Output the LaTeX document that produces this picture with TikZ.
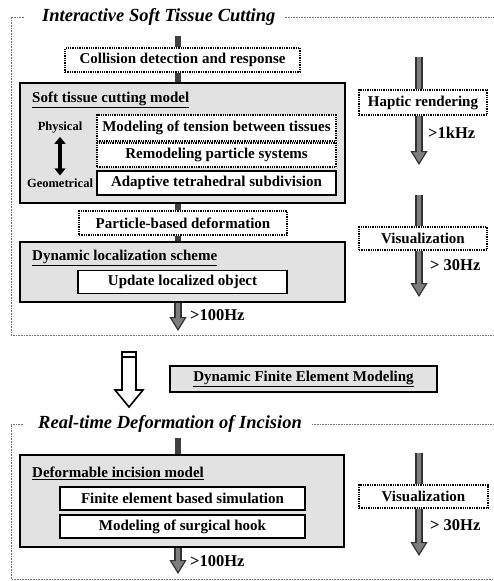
\documentclass[tikz,border=0pt]{standalone}
\usepackage{fontspec}
\setmainfont{Liberation Serif}
\usepackage{xcolor}
\usetikzlibrary{positioning, calc, arrows.meta}
\definecolor{panelgray}{RGB}{226,226,226}
\definecolor{shaftgray}{RGB}{125,125,125}

\tikzstyle{Frame} = [draw=black!55, densely dotted, line width=0.6pt]
\tikzstyle{Title} = [font=\bfseries\itshape\fontsize{18.5}{20}\selectfont, inner sep=0pt]
\tikzstyle{DotBox} = [draw, densely dotted, line width=1.3pt, fill=white, inner sep=0pt,
  font=\bfseries\fontsize{15}{17}\selectfont]
\tikzstyle{Box} = [draw, line width=1.6pt, fill=white, inner sep=0pt,
  font=\bfseries\fontsize{15}{17}\selectfont]
\tikzstyle{Panel} = [draw, line width=2.2pt, fill=panelgray, inner sep=0pt]
\tikzstyle{Label} = [font=\bfseries\fontsize{15}{17}\selectfont, inner sep=0pt, anchor=west]
\tikzstyle{Side} = [font=\bfseries\fontsize{12.5}{14}\selectfont, inner sep=0pt]
\tikzstyle{Rate} = [font=\bfseries\fontsize{16.5}{18}\selectfont, inner sep=0pt, anchor=west]
\tikzstyle{Bar} = [line width=6pt, draw=black!75]
\tikzstyle{Shaft} = [line width=8pt, draw=black!80,
  postaction={draw=shaftgray, line width=4pt}]
\tikzstyle{Flow} = [line width=8pt, draw=black!80,
  -{Triangle[length=14pt, width=17pt, fill=shaftgray, line width=1.2pt]},
  postaction={draw=shaftgray, line width=4pt, -, shorten >=12pt}]
\tikzstyle{Swap} = [line width=3.5pt, shorten <=3pt, shorten >=3pt,
  {Triangle[length=7pt, width=11pt]}-{Triangle[length=7pt, width=11pt]}]
\tikzstyle{Hollow} = [draw, line width=1.6pt, fill=white, line join=miter]

\begin{document}
\begin{tikzpicture}[x=1pt, y=-1pt]
    \useasboundingbox (0,0) rectangle (493,581);

    % Interactive soft tissue cutting
    \node[Title, anchor=west] (title1) at (42,17) {Interactive Soft Tissue Cutting};
    \draw[Frame] ([xshift=-18pt]title1.west) -- (11,17) -- (11,335) -- (493,335);
    \draw[Frame] ([xshift=9pt]title1.east) -- (493,17);

    \node[DotBox, minimum width=235pt, minimum height=24pt] (collide) at (182.5,60) {Collision detection and response};
    \node[Panel, minimum width=325pt, minimum height=120pt] (cutmodel) at (182.5,143) {};
    \node[Label] (cutlabel) at (32,100) {\underline{Soft tissue cutting model}};
    \node[DotBox, minimum width=239pt, minimum height=26pt] (tension) at (216.5,128) {Modeling of tension between tissues};
    \node[DotBox, minimum width=239pt, minimum height=24pt] (remodel) at (216.5,155) {Remodeling particle systems};
    \node[Box, minimum width=239pt, minimum height=24pt] (adaptive) at (216.5,183) {Adaptive tetrahedral subdivision};
    \node[Side] (physical) at (60,128) {Physical};
    \node[Side] (geometrical) at (60,183) {Geometrical};
    \draw[Swap] (physical.south) -- (geometrical.north);

    \node[DotBox, minimum width=208pt, minimum height=24pt] (particle) at (183,223) {Particle-based deformation};
    \node[Panel, minimum width=325pt, minimum height=60pt] (localize) at (182.5,272) {};
    \node[Label] (loclabel) at (32,258) {\underline{Dynamic localization scheme}};
    \node[Box, minimum width=209pt, minimum height=23pt] (update) at (182.5,282) {Update localized object};

    \coordinate (c0) at (178,36);
    \coordinate (c1) at (178,331);
    \draw[Bar] (c0) -- (c0 |- collide.north);
    \draw[Bar] (c0 |- collide.south) -- (c0 |- cutmodel.north);
    \draw[Bar] (c0 |- cutmodel.south) -- (c0 |- particle.north);
    \draw[Bar] (c0 |- particle.south) -- (c0 |- localize.north);
    \draw[Flow] (c0 |- localize.south) -- (c1);
    \node[Rate] (rate1) at (190,315) {>100Hz};

    \node[DotBox, minimum width=128pt, minimum height=25pt] (haptic) at (423,102.5) {Haptic rendering};
    \coordinate (h0) at (419,57);
    \coordinate (h1) at (419,165);
    \draw[Shaft] (h0) -- (h0 |- haptic.north);
    \draw[Flow] (h0 |- haptic.south) -- (h1);
    \node[Rate] (rate2) at (428,133) {>1kHz};

    \node[DotBox, minimum width=128pt, minimum height=23pt] (vis1) at (423,238.5) {Visualization};
    \coordinate (v0) at (419,195);
    \coordinate (v1) at (419,297);
    \draw[Shaft] (v0) -- (v0 |- vis1.north);
    \draw[Flow] (v0 |- vis1.south) -- (v1);
    \node[Rate] (rate3) at (430,265) {> 30Hz};

    % step to the FEM stage
    \coordinate (m0) at (129,352);
    \draw[Hollow] ($(m0)+(-7,0)$) -- ++(14,0) -- ++(0,38) -- ++(7,0) -- ($(m0)+(0,55)$)
        -- ($(m0)+(-14,38)$) -- ++(7,0) -- cycle;
    \draw[line width=1.6pt] ($(m0)+(-7,5)$) -- ++(14,0);
    \node[Panel, line width=1.8pt, minimum width=267pt, minimum height=26pt,
        font=\bfseries\fontsize{15}{17}\selectfont] (femodel) at (303.5,379) {\underline{Dynamic Finite Element Modeling}};

    % Real-time deformation of incision
    \node[Title, anchor=west] (title2) at (38,424) {Real-time Deformation of Incision};
    \draw[Frame] ([xshift=-15pt]title2.west) -- (11,424) -- (11,579) -- (493,579);
    \draw[Frame] ([xshift=10pt]title2.east) -- (493,424);

    \node[Panel, minimum width=324pt, minimum height=92pt] (incision) at (182,501) {};
    \node[Label] (inclabel) at (32,473) {\underline{Deformable incision model}};
    \node[Box, minimum width=245pt, minimum height=23pt] (fem) at (182.5,498.5) {Finite element based simulation};
    \node[Box, minimum width=245pt, minimum height=23pt] (hook) at (182.5,526.5) {Modeling of surgical hook};

    \coordinate (d0) at (178,438);
    \coordinate (d1) at (178,574);
    \draw[Bar] (d0) -- (d0 |- incision.north);
    \draw[Flow] (d0 |- incision.south) -- (d1);
    \node[Rate] (rate4) at (190,561) {>100Hz};

    \node[DotBox, minimum width=129pt, minimum height=23pt] (vis2) at (423.5,496.5) {Visualization};
    \coordinate (w0) at (419,453);
    \coordinate (w1) at (419,556);
    \draw[Shaft] (w0) -- (w0 |- vis2.north);
    \draw[Flow] (w0 |- vis2.south) -- (w1);
    \node[Rate] (rate5) at (430,525) {> 30Hz};
\end{tikzpicture}
\end{document}
